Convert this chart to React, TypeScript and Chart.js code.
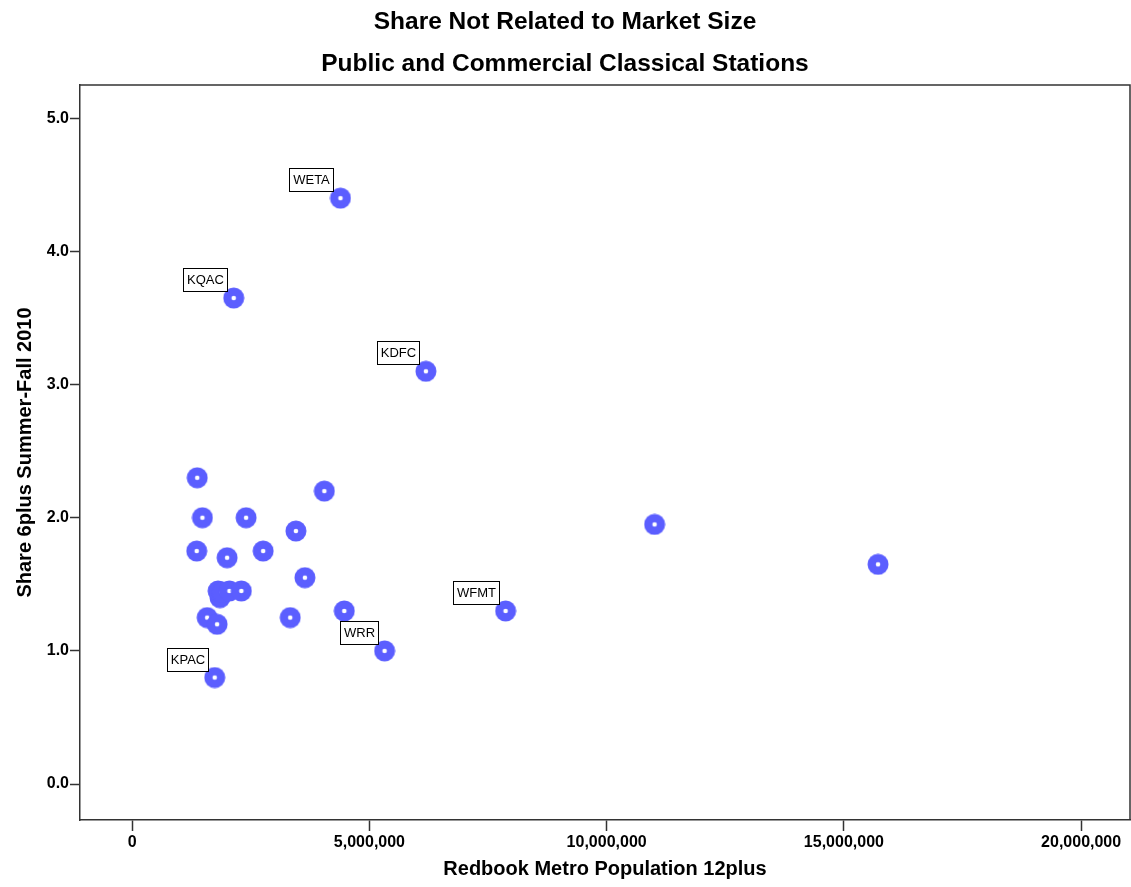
import React, { useEffect, useRef } from 'react';
import { Chart, registerables } from 'chart.js';

Chart.register(...registerables);

// ---- Data ----
const stationLabels = [
  'WETA', 'KQAC', 'KDFC', 'WFMT', 'WRR', 'KPAC',
  '', '', '', '', '', '', '', '', '', '', '', '', '', '', '', '', '', '', '', '',
];
const populationValues = [
  4390000, 2140000, 6190000, 7870000, 5320000, 1740000,
  1370000, 4050000, 1480000, 2400000, 3450000, 1360000, 2000000, 2760000, 3640000,
  1850000, 1810000, 1900000, 2050000, 2300000, 1580000, 1790000, 3330000, 4470000,
  11010000, 15720000,
];
const shareValues = [
  4.40, 3.65, 3.10, 1.30, 1.00, 0.80,
  2.30, 2.20, 2.00, 2.00, 1.90, 1.75, 1.70, 1.75, 1.55,
  1.40, 1.45, 1.44, 1.45, 1.45, 1.25, 1.20, 1.25, 1.30,
  1.95, 1.65,
];
const xTickValues = [0, 5000000, 10000000, 15000000, 20000000];
const yTickValues = [0, 1, 2, 3, 4, 5];
const titleLines = ['Share Not Related to Market Size', 'Public and Commercial Classical Stations'];
const xAxisTitle = 'Redbook Metro Population 12plus';
const yAxisTitle = 'Share 6plus Summer-Fall 2010';

const MARKER_COLOR = '#5b5eff';
const AXIS_COLOR = '#333333';
const FONT = 'Arial, "Liberation Sans", Helvetica, sans-serif';

function makeMarker(): HTMLCanvasElement {
  const c = document.createElement('canvas');
  c.width = 22;
  c.height = 22;
  const g = c.getContext('2d')!;
  g.fillStyle = MARKER_COLOR;
  g.beginPath();
  g.arc(11, 11, 10.5, 0, Math.PI * 2);
  g.fill();
  g.fillStyle = '#ffffff';
  g.beginPath();
  g.arc(11, 11, 2.3, 0, Math.PI * 2);
  g.fill();
  return c;
}

const framePlugin = {
  id: 'plotFrame',
  beforeDatasetsDraw(chart: any) {
    const { ctx, chartArea } = chart;
    const { left, right, top, bottom } = chartArea;
    ctx.save();
    ctx.strokeStyle = AXIS_COLOR;
    ctx.lineWidth = 1.5;
    ctx.beginPath();
    ctx.moveTo(left, top);
    ctx.lineTo(right, top);
    ctx.lineTo(right, bottom);
    ctx.stroke();
    ctx.restore();
  },
};

const labelPlugin = {
  id: 'stationLabels',
  afterDatasetsDraw(chart: any) {
    const ctx = chart.ctx;
    const meta = chart.getDatasetMeta(0);
    ctx.save();
    ctx.font = `13px ${FONT}`;
    meta.data.forEach((pt: any, i: number) => {
      const label = stationLabels[i];
      if (!label) return;
      const w = Math.round(ctx.measureText(label).width + 7);
      const h = 23;
      const right = Math.round(pt.x - 7);
      const bottom = Math.round(pt.y - 7);
      ctx.fillStyle = '#ffffff';
      ctx.fillRect(right - w, bottom - h, w, h);
      ctx.strokeStyle = '#000000';
      ctx.lineWidth = 1;
      ctx.strokeRect(right - w + 0.5, bottom - h + 0.5, w, h);
      ctx.fillStyle = '#000000';
      ctx.textAlign = 'center';
      ctx.textBaseline = 'middle';
      ctx.fillText(label, right - w / 2 + 0.5, bottom - h / 2 + 1);
    });
    ctx.restore();
  },
};

export default function App() {
  const canvasRef = useRef<HTMLCanvasElement | null>(null);

  useEffect(() => {
    const canvas = canvasRef.current;
    if (!canvas) return;
    const marker = makeMarker();
    const points = populationValues.map((x, i) => ({ x, y: shareValues[i] }));

    const chart = new Chart(canvas, {
      type: 'scatter',
      data: {
        datasets: [
          {
            data: points,
            pointStyle: marker as any,
            pointRadius: 10.5,
            pointBorderWidth: 0,
            backgroundColor: MARKER_COLOR,
          },
        ],
      },
      options: {
        responsive: true,
        maintainAspectRatio: false,
        animation: false,
        events: [],
        layout: { autoPadding: false, padding: { top: 0, left: 0, right: 1, bottom: 0 } },
        plugins: {
          legend: { display: false },
          tooltip: { enabled: false },
          title: {
            display: true,
            text: titleLines,
            color: '#000000',
            font: { family: FONT, size: 24.5, weight: 'bold', lineHeight: '42px' } as any,
            padding: { top: 1, bottom: 0 },
          },
        },
        scales: {
          x: {
            type: 'linear',
            min: -1100000,
            max: 21030000,
            afterFit: (s: any) => {
              s.height = 67;
              s.paddingLeft = 0;
              s.paddingRight = 0;
            },
            afterBuildTicks: (s: any) => {
              s.ticks = xTickValues.map((v) => ({ value: v }));
            },
            grid: {
              drawOnChartArea: false,
              drawTicks: true,
              tickLength: 11,
              color: AXIS_COLOR,
              tickWidth: 1.5,
            },
            border: { display: true, color: AXIS_COLOR, width: 1.5 },
            ticks: {
              color: '#000000',
              font: { family: FONT, size: 16, weight: 'bold' },
              padding: 2,
              maxRotation: 0,
              autoSkip: false,
              callback: (v: any) => Number(v).toLocaleString('en-US'),
            },
            title: {
              display: true,
              text: xAxisTitle,
              color: '#000000',
              font: { family: FONT, size: 20, weight: 'bold' },
              padding: { top: 0, bottom: 6 },
            },
          },
          y: {
            type: 'linear',
            min: -0.27,
            max: 5.25,
            afterFit: (s: any) => {
              s.width = 80;
              s.paddingTop = 0;
              s.paddingBottom = 0;
            },
            afterBuildTicks: (s: any) => {
              s.ticks = yTickValues.map((v) => ({ value: v }));
            },
            grid: {
              drawOnChartArea: false,
              drawTicks: true,
              tickLength: 10,
              color: AXIS_COLOR,
              tickWidth: 1.5,
            },
            border: { display: true, color: AXIS_COLOR, width: 1.5 },
            ticks: {
              color: '#000000',
              font: { family: FONT, size: 16, weight: 'bold' },
              padding: 1,
              autoSkip: false,
              callback: (v: any) => Number(v).toFixed(1),
            },
            title: {
              display: true,
              text: yAxisTitle,
              color: '#000000',
              font: { family: FONT, size: 20, weight: 'bold' },
              padding: { top: 13, bottom: 0 },
            },
          },
        },
      },
      plugins: [framePlugin, labelPlugin],
    });

    return () => {
      chart.destroy();
    };
  }, []);

  return (
    <div
      style={{
        position: 'fixed',
        left: 0,
        top: 0,
        width: 1131,
        height: 887,
        background: '#ffffff',
      }}
    >
      <canvas ref={canvasRef} />
    </div>
  );
}
